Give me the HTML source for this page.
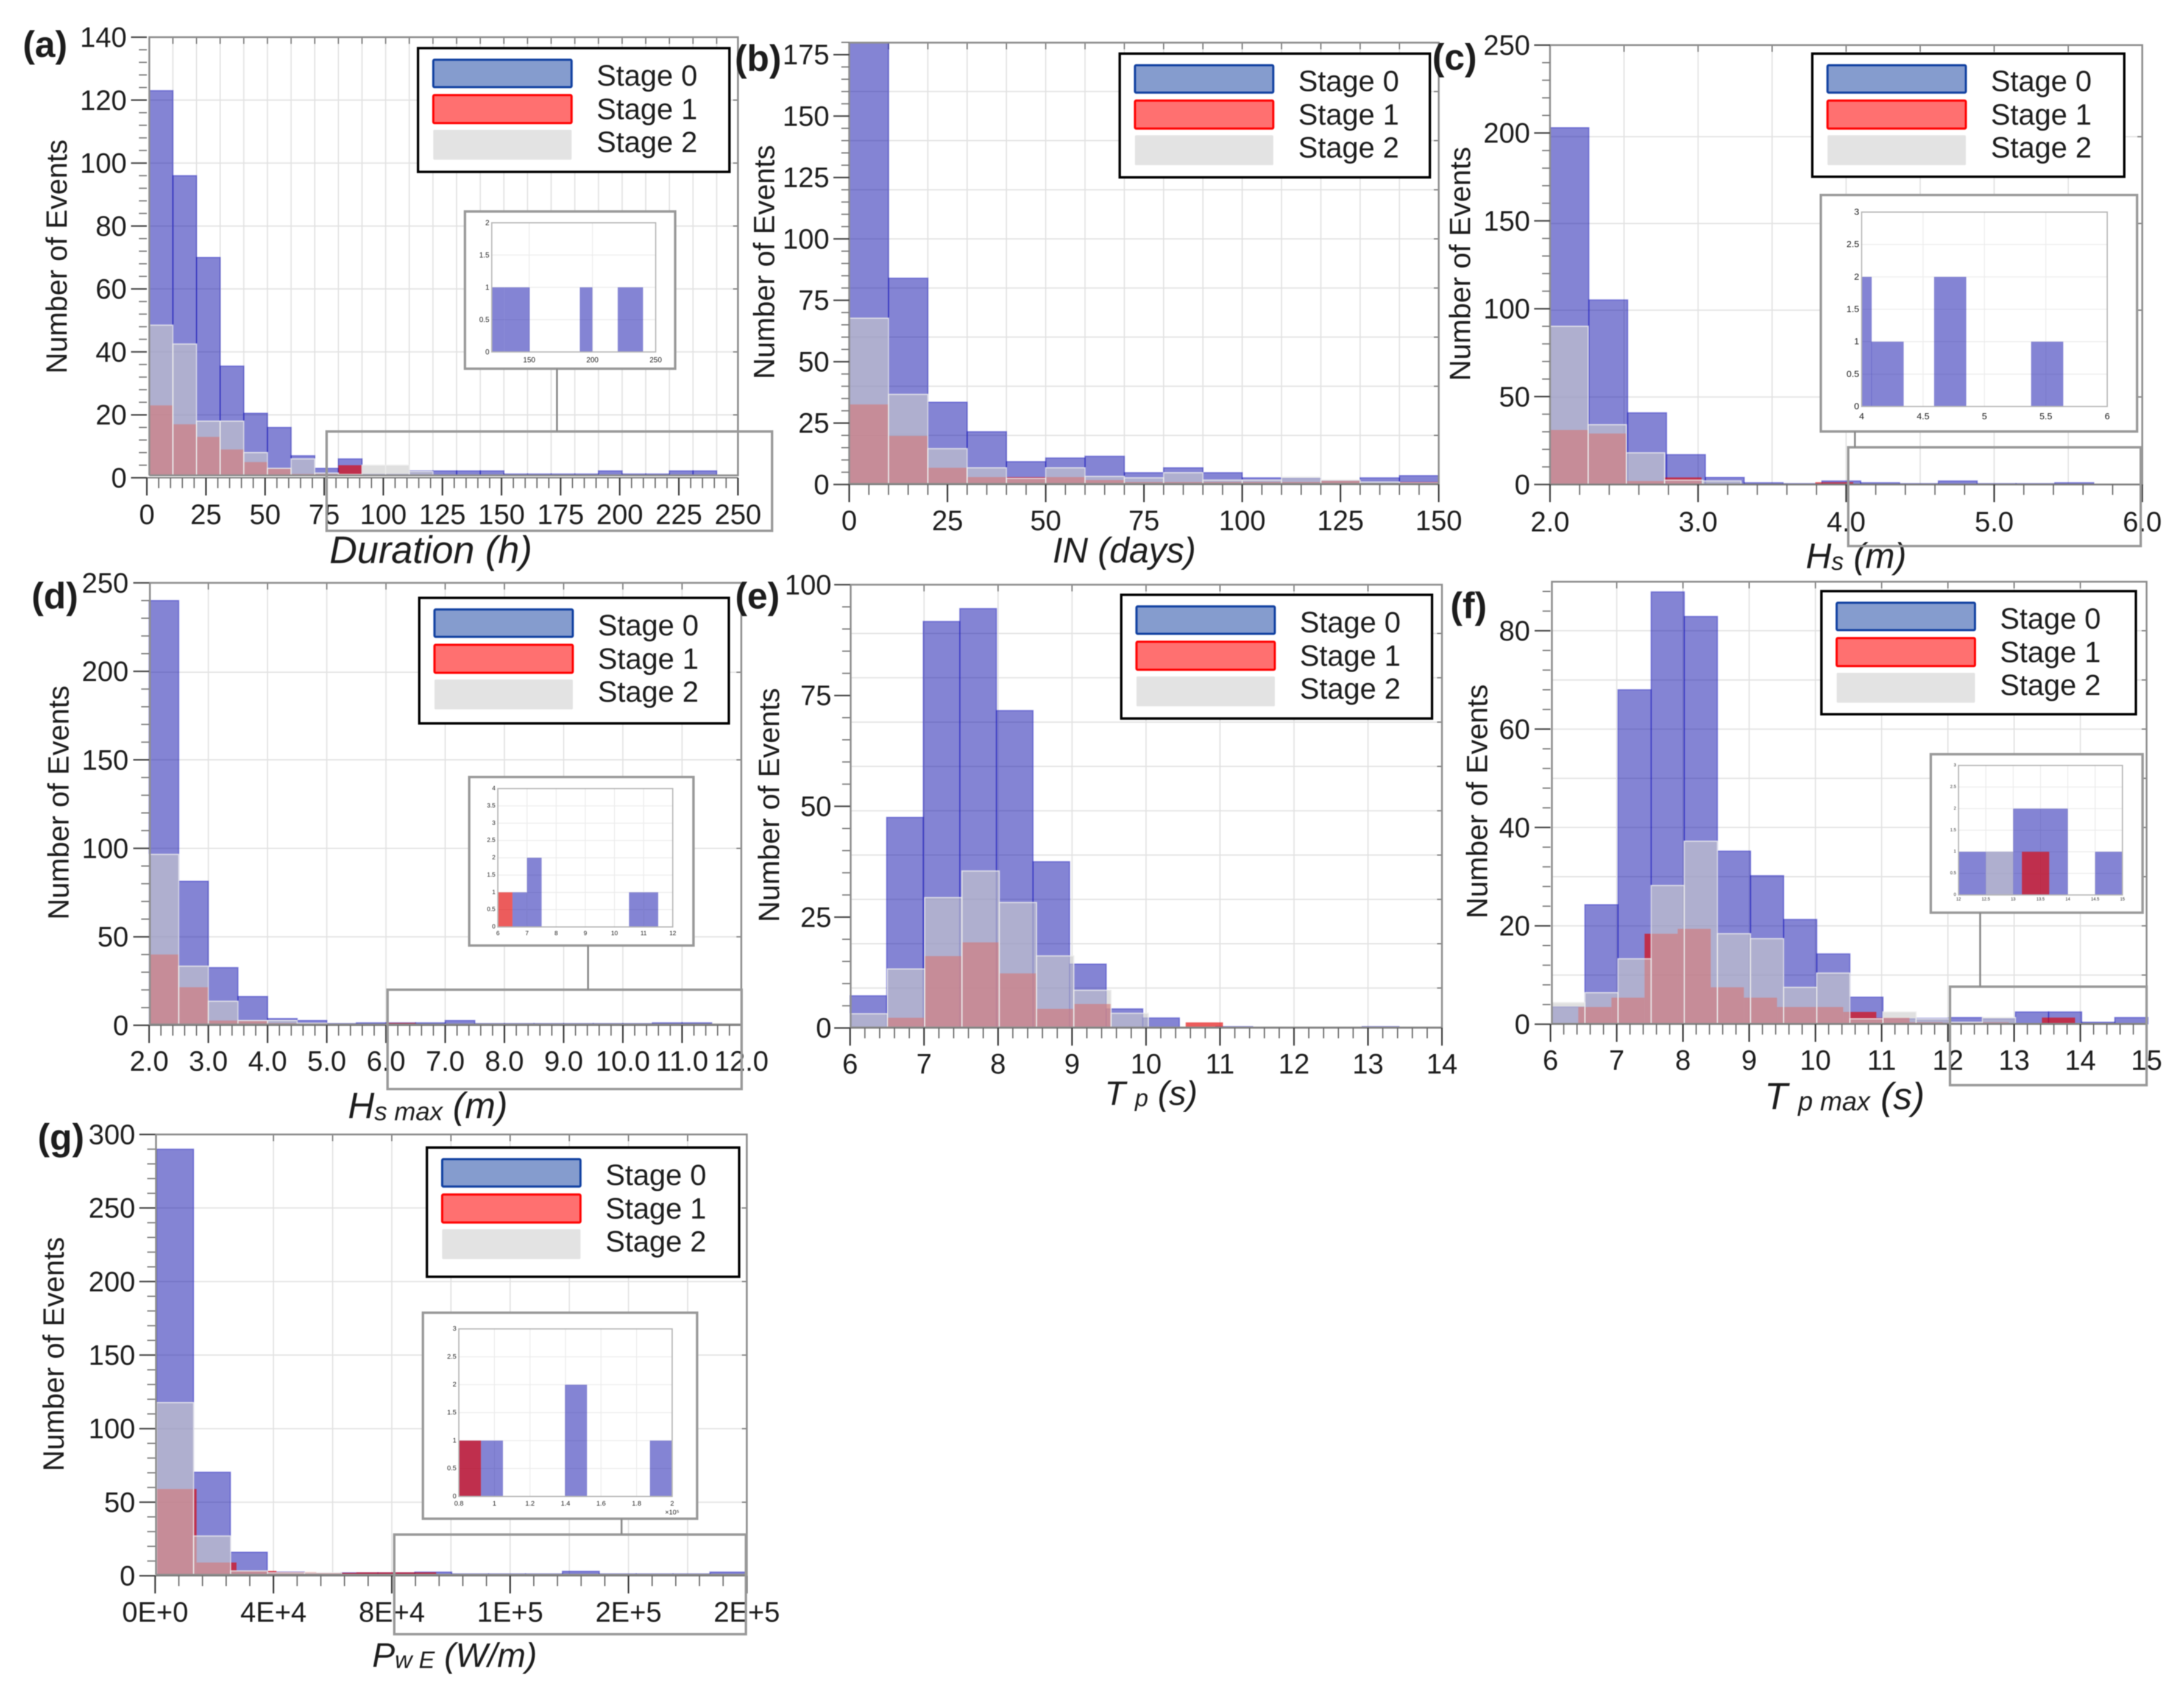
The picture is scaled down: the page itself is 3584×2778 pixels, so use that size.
<!DOCTYPE html>
<html lang="en">
<head>
<meta charset="utf-8">
<title>Histograms of storm event parameters by stage</title>
<style>
html,body{margin:0;padding:0;background:#fff;width:3584px;height:2778px;overflow:hidden}
svg{display:block;filter:blur(0.9px)}
text{font-family:"Liberation Sans",sans-serif;fill:#1c1c1c}
</style>
</head>
<body>
<svg id="figure" xmlns="http://www.w3.org/2000/svg" width="3584" height="2778" viewBox="0 0 3584 2778"></svg>
<script>
// ---------- Panel (a) Duration ----------
const aXTicks = [0,25,50,75,100,125,150,175,200,225,250];
const aXTickLabels = ['0','25','50','75','100','125','150','175','200','225','250'];
const aYTicks = [0,20,40,60,80,100,120,140];
const aXGrid = [11,21,31,41,51,61,71,81,91,101,111,121,131,141,151,161,171,181,191,201,211,221,231,241];
const aYGrid = [20,40,60,80,100,120];
const aStage0 = [123,96,70,35.5,20.5,16,7,3,6,1,1,2.2,2.2,2.2,2.2,1.2,1.2,1.2,1.2,2.2,1.2,1.2,2.2,2.2];
const aStage1 = [23,17,13,9,5,3,1.2,1.2,4];
const aStage2 = [48.5,42.5,18,18,8,3,6,1.5,1,4,4,2];
const aInsetXTicks = [150,200,250];
const aInsetXTickLabels = ['150','200','250'];
const aInsetYTicks = [0,0.5,1,1.5,2];
const aInsetYTickLabels = ['0','0.5','1','1.5','2'];
const aInsetStage0Starts = [120.4,130.4,140.4,190,220,230];
const aInsetStage0Values = [1,1,1,1,1,1];

// ---------- Panel (b) IN ----------
const bXTicks = [0,25,50,75,100,125,150];
const bXTickLabels = ['0','25','50','75','100','125','150'];
const bYTicks = [0,25,50,75,100,125,150,175];
const bXGrid = [10,20,30,40,50,60,70,80,90,100,110,120,130,140];
const bYGrid = [20,40,60,80,100,120,140,160];
const bStage0 = [180,84,33.5,21.5,9.3,10.8,11.5,4.8,6.8,4.8,2.7,2.5,1.5,2.7,3.6];
const bStage1 = [32.6,19.8,6.8,3,3,3,1.8,1,1,1,1,1,1.5,0,1];
const bStage2 = [67.7,36.7,14.6,6.8,2.5,6.8,3.3,2.7,4.8,1.8,1.8,3,1.8,1,0.5];

// ---------- Panel (c) Hs ----------
const cXTicks = [2,3,4,5,6];
const cXTickLabels = ['2.0','3.0','4.0','5.0','6.0'];
const cYTicks = [0,50,100,150,200,250];
const cXGrid = [2.5,3,3.5,4,4.5,5,5.5];
const cYGrid = [49.8,99.2,148.5,197.9];
const cStage0 = [203,105,40.8,17,4,1,0.3,2,1,0.3,2,0.3,0.3,1];
const cStage1 = [31,29,2,4,0.5,0.5,0.5,1.3];
const cStage2 = [90,34,18,2.5,2];
const cInsetXTicks = [4,4.5,5,5.5,6];
const cInsetXTickLabels = ['4','4.5','5','5.5','6'];
const cInsetYTicks = [0,0.5,1,1.5,2,2.5,3];
const cInsetYTickLabels = ['0','0.5','1','1.5','2','2.5','3'];
const cInsetStage0Starts = [3.82,4.08,4.59,5.38];
const cInsetStage0Values = [2,1,2,1];

// ---------- Panel (d) Hs max ----------
const dXTicks = [2,3,4,5,6,7,8,9,10,11,12];
const dXTickLabels = ['2.0','3.0','4.0','5.0','6.0','7.0','8.0','9.0','10.0','11.0','12.0'];
const dYTicks = [0,50,100,150,200,250];
const dXGrid = [3,4,5,6,7,8,9,10,11];
const dYGrid = [50,100,150,199.5];
const dStage0 = [240,81.4,32.6,16.3,3.8,2.7,0.4,1.4,1.4,1.4,2.7,0.4,0.4,0.4,0.4,0.4,0.4,1.4,1.4];
const dStage1 = [40,21.5,2.7,2.7,1.2,1.2,0.8,0,1.4];
const dStage2 = [96.6,33.4,13.6,2.7,2.7,1.2];
const dInsetXTicks = [6,7,8,9,10,11,12];
const dInsetXTickLabels = ['6','7','8','9','10','11','12'];
const dInsetYTicks = [0,0.5,1,1.5,2,2.5,3,3.5,4];
const dInsetYTickLabels = ['0','0.5','1','1.5','2','2.5','3','3.5','4'];
const dInsetStage0Starts = [6.5,7,10.5,11];
const dInsetStage0Values = [1,2,1,1];
const dInsetStage1Starts = [6];
const dInsetStage1Values = [1];

// ---------- Panel (e) Tp ----------
const eXTicks = [6,7,8,9,10,11,12,13,14];
const eXTickLabels = ['6','7','8','9','10','11','12','13','14'];
const eYTicks = [0,25,50,75,100];
const eXGrid = [7,8,9,10,11,12,13];
const eYGrid = [9,19,29,39,49,59,69,79,89];
const eStage0 = [7.25,47.5,91.7,94.6,71.6,37.5,14.4,4.3,2.25,0,0.2,0,0,0,0.2];
const eStage1 = [0.1,2.3,16.2,19.3,12.3,4.3,5.4,0,0,1.25];
const eStage2 = [3.2,13.3,29.4,35.4,28.3,16.25,8.5,3.3];

// ---------- Panel (f) Tp max ----------
const fXTicks = [6,7,8,9,10,11,12,13,14,15];
const fXTickLabels = ['6','7','8','9','10','11','12','13','14','15'];
const fYTicks = [0,20,40,60,80];
const fXGrid = [7,8,9,10,11,12,13,14];
const fYGrid = [10,20,30,40,50,60,70,80];
const fStage0 = [3.5,24.3,68,87.9,82.9,35.2,30.2,21.3,14.3,5.5,1.1,1.2,1.35,1.1,2.5,2.5,0.4,1.35];
const fStage1 = [3.5,5.4,18.4,19.4,7.5,5.4,3.5,3.5,2.5,1.3,0.4,0.3,0.4,0,1.35];
const fStage2 = [4.4,6.4,13.3,28.2,37.2,18.4,17.4,7.5,10.4,1.1,2.5,1.1,0.4,1.35];
const fInsetXTicks = [12,12.5,13,13.5,14,14.5,15];
const fInsetXTickLabels = ['12','12.5','13','13.5','14','14.5','15'];
const fInsetYTicks = [0,0.5,1,1.5,2,2.5,3];
const fInsetYTickLabels = ['0','0.5','1','1.5','2','2.5','3'];
const fInsetStage0Starts = [12,12.5,13,13.5,14.5];
const fInsetStage0Values = [1,1,2,2,1];
const fInsetStage1Starts = [13.16];
const fInsetStage1Values = [1];
const fInsetStage2Starts = [12.5];
const fInsetStage2Values = [1];

// ---------- Panel (g) PwE ----------
const gXTicks = [0,40000,80000,120000,160000,200000];
const gXTickLabels = ['0E+0','4E+4','8E+4','1E+5','2E+5','2E+5'];
const gYTicks = [0,50,100,150,200,250,300];
const gXGrid = [40000,60000,80000,100000,120000,140000,160000,180000];
const gYGrid = [50,100,150,200,250];
const gStage0 = [290,70.4,16,2.5,0.5,2,2,2.5,0.5,0.5,0.5,3,0.5,0.5,0.5,2.5];
const gStage1 = [59,9,3.3,2.5,2,2.3,2.3];
const gStage2 = [117.7,27,3.3,2,2];
const gInsetXTicks = [0.8,1,1.2,1.4,1.6,1.8,2];
const gInsetXTickLabels = ['0.8','1','1.2','1.4','1.6','1.8','2'];
const gInsetYTicks = [0,0.5,1,1.5,2,2.5,3];
const gInsetYTickLabels = ['0','0.5','1','1.5','2','2.5','3'];
const gInsetStage0Starts = [0.8,0.924,1.397,1.875];
const gInsetStage0Values = [1,1,2,1];
const gInsetStage1Starts = [0.8];
const gInsetStage1Values = [1];

const stageLabels = ['Stage 0','Stage 1','Stage 2'];

// ---------- Layout (pixels and styling only) ----------
const panels = [
 {id:'a',letter:'(a)',lx:74,ly:73,
  xL:241,xR:1211,xMin:0,xMax:250,y0:784,yRefPx:61,yRefVal:140,fL:245,fT:61,fR:1211,base:780,
  xTicks:aXTicks,xTickLabels:aXTickLabels,yTicks:aYTicks,xGrid:aXGrid,yGrid:aYGrid,xMinor:5,yMinor:4,
  s:[aStage0,aStage1,aStage2],start:[1,1,1],w:[10,10,10],
  yLab:208,xLabY:844,title:[['Duration (h)',0]],tx:707,ty:903,tsize:63,yt:[94,421],leg:[686,79,511,203],
  zoom:[536,708,731,163],conn:[914,605,708],
  inset:{f:[763,347,345,258],p:[807,365.5,269,212],xMin:120.4,xMax:250,yMax:2,xTicks:aInsetXTicks,xLabels:aInsetXTickLabels,yTicks:aInsetYTicks,yLabels:aInsetYTickLabels,font:12,
   bw:10,s0:[aInsetStage0Starts,aInsetStage0Values]}},
 {id:'b',letter:'(b)',lx:1244,ly:96,
  xL:1393.6,xR:2361,xMin:0,xMax:150,y0:795,yRefPx:89.7,yRefVal:175,fL:1393.6,fT:70,fR:2361,base:794,
  xTicks:bXTicks,xTickLabels:bXTickLabels,yTicks:bYTicks,xGrid:bXGrid,yGrid:bYGrid,xMinor:5,yMinor:5,
  s:[bStage0,bStage1,bStage2],start:[0,0,0],w:[10,10,10],
  yLab:1361,xLabY:854,title:[['IN (days)',0]],tx:1845,ty:903,tsize:58,yt:[1255,430],leg:[1837.5,88,509,203]},
 {id:'c',letter:'(c)',lx:2387,ly:94,
  xL:2543.6,xR:3515.5,xMin:2,xMax:6,y0:795,yRefPx:74,yRefVal:250,fL:2543.6,fT:74,fR:3515.5,base:795,
  xTicks:cXTicks,xTickLabels:cXTickLabels,yTicks:cYTicks,xGrid:cXGrid,yGrid:cYGrid,xMinor:0.2,yMinor:10,
  s:[cStage0,cStage1,cStage2],start:[2,2,2],w:[0.2623,0.256,0.258],
  yLab:2511,xLabY:856,title:[['H',0],['s',1],[' (m)',0]],tx:3046,ty:912,tsize:58,yt:[2397,433],leg:[2974,88,512,202],
  zoom:[3033,734,480,162],conn:[3044,708,734],
  inset:{f:[2988,320,519,388],p:[3055,348,403,319],xMin:4,xMax:6,yMax:3,xTicks:cInsetXTicks,xLabels:cInsetXTickLabels,yTicks:cInsetYTicks,yLabels:cInsetYTickLabels,font:15,
   bw:0.262,s0:[cInsetStage0Starts,cInsetStage0Values]}},
 {id:'d',letter:'(d)',lx:90,ly:978,
  xL:244.7,xR:1216.5,xMin:2,xMax:12,y0:1682.4,yRefPx:956.4,yRefVal:250,fL:246,fT:956.4,fR:1216.5,base:1681,
  xTicks:dXTicks,xTickLabels:dXTickLabels,yTicks:dYTicks,xGrid:dXGrid,yGrid:dYGrid,xMinor:0.2,yMinor:10,
  s:[dStage0,dStage1,dStage2],start:[2,2,2],w:[0.5,0.5,0.5],
  yLab:211,xLabY:1741,title:[['H',0],['s max',1],[' (m)',0]],tx:702,ty:1814,tsize:60,yt:[97,1317],leg:[688,981,508,206],
  zoom:[636,1624,581,163],conn:[965,1551,1624],
  inset:{f:[770,1275,368,276.5],p:[817,1294,287,227],xMin:6,xMax:12,yMax:4,xTicks:dInsetXTicks,xLabels:dInsetXTickLabels,yTicks:dInsetYTicks,yLabels:dInsetYTickLabels,font:10,
   bw:0.5,s0:[dInsetStage0Starts,dInsetStage0Values],s1:[dInsetStage1Starts,dInsetStage1Values]}},
 {id:'e',letter:'(e)',lx:1243,ly:978,
  xL:1395,xR:2366.3,xMin:6,xMax:14,y0:1686.7,yRefPx:959.4,yRefVal:100,fL:1396,fT:959.4,fR:2366.3,base:1686,
  xTicks:eXTicks,xTickLabels:eXTickLabels,yTicks:eYTicks,xGrid:eXGrid,yGrid:eYGrid,xMinor:0.2,yMinor:5,
  s:[eStage0,eStage1,eStage2],start:[6,6,6],w:[0.4945,0.504,0.504],
  yLab:1364.5,xLabY:1745.5,title:[['T ',0],['p',1],[' (s)',0]],tx:1889,ty:1793,tsize:56,yt:[1263,1321],leg:[1840,976,510,203]},
 {id:'f',letter:'(f)',lx:2410,ly:994,
  xL:2544.4,xR:3522.6,xMin:6,xMax:15,y0:1680.6,yRefPx:1035,yRefVal:80,fL:2546.7,fT:954.5,fR:3522.6,base:1680,
  xTicks:fXTicks,xTickLabels:fXTickLabels,yTicks:fYTicks,xGrid:fXGrid,yGrid:fYGrid,xMinor:0.2,yMinor:4,
  s:[fStage0,fStage1,fStage2],start:[6.02,6.42,6.02],w:[0.5,0.5,0.5],
  yLab:2511,xLabY:1739.4,title:[['T ',0],['p max',1],[' (s)',0]],tx:3027,ty:1799,tsize:62,yt:[2425,1315],leg:[2989,970,516,202],
  zoom:[3200,1619,322.6,161.6],conn:[3249.5,1497.6,1619],
  inset:{f:[3168.5,1237.6,347.5,260],p:[3214,1256,269,212.5],xMin:12,xMax:15,yMax:3,xTicks:fInsetXTicks,xLabels:fInsetXTickLabels,yTicks:fInsetYTicks,yLabels:fInsetYTickLabels,font:7,
   bw:0.5,s0:[fInsetStage0Starts,fInsetStage0Values],s1:[fInsetStage1Starts,fInsetStage1Values],s2:[fInsetStage2Starts,fInsetStage2Values]}},
 {id:'g',letter:'(g)',lx:100,ly:1866,
  xL:254.6,xR:1225.5,xMin:0,xMax:200000,y0:2585.6,yRefPx:1861.5,yRefVal:300,fL:256,fT:1861.5,fR:1225.5,base:2584,
  xTicks:gXTicks,xTickLabels:gXTickLabels,yTicks:gYTicks,xGrid:gXGrid,yGrid:gYGrid,xMinor:8000,yMinor:10,
  s:[gStage0,gStage1,gStage2],start:[500,500,500],w:[12470,13500,12500],
  yLab:222,xLabY:2645,title:[['P',0],['w E',1],[' (W/m)',0]],tx:746,ty:2715,tsize:56,yt:[89,2222],leg:[700.6,1883,512.4,212],
  zoom:[647,2518,577,163.5],conn:[1020,2492,2518],
  inset:{f:[694,2154,450,338],p:[753,2180.5,350,275],xMin:0.8,xMax:2,yMax:3,xTicks:gInsetXTicks,xLabels:gInsetXTickLabels,yTicks:gInsetYTicks,yLabels:gInsetYTickLabels,font:11,
   bw:0.124,s0:[gInsetStage0Starts,gInsetStage0Values],s1:[gInsetStage1Starts,gInsetStage1Values],note:'×10⁵'}}
];

const NS = 'http://www.w3.org/2000/svg';
const root = document.getElementById('figure');
const BLUE = 'rgba(10,10,170,0.5)';
const RED = 'rgba(225,0,0,0.64)';
const GREY = 'rgba(204,204,204,0.6)';

function mk(tag, attrs, parent){
  const el = document.createElementNS(NS, tag);
  for (const k in attrs) el.setAttribute(k, attrs[k]);
  parent.appendChild(el);
  return el;
}

function drawPanel(p){
  const g = mk('g', {}, root);
  
  

  const x = v => p.xL + (v - p.xMin) * (p.xR - p.xL) / (p.xMax - p.xMin);
  const y = v => p.y0 - v * (p.y0 - p.yRefPx) / p.yRefVal;

  // gridlines
  p.xGrid.forEach(v => {
    const l = mk('line', {x1:x(v), x2:x(v), y1:p.fT, y2:p.base, stroke:'#e2e2e2', 'stroke-width':2}, g);
    
    
    const t = mk('line', {x1:x(v), x2:x(v), y1:p.fT, y2:p.fT + 11, stroke:'#777', 'stroke-width':2}, g);
    
    
  });
  p.yGrid.forEach(v => {
    const l = mk('line', {x1:p.fL, x2:p.fR, y1:y(v), y2:y(v), stroke:'#e2e2e2', 'stroke-width':2}, g);
    
    
    const t = mk('line', {x1:p.fR - 8, x2:p.fR, y1:y(v), y2:y(v), stroke:'#777', 'stroke-width':2}, g);
    
    
  });

  // bars: stage 0, stage 1, stage 2 stacking order (stage 2 translucent on top)
  const fills = [BLUE, RED, GREY];
  const strokes = ['rgba(30,30,190,0.45)', 'none', 'rgba(238,238,238,0.8)'];
  [0,1,2].forEach(s => {
    const sg = mk('g', {}, g);
    
    
    p.s[s].forEach((v, i) => {
      if (v <= 0) return;
      const left = x(p.start[s] + i * p.w[s]);
      const right = x(p.start[s] + (i + 1) * p.w[s]);
      const top = Math.max(y(v), p.fT);
      const h = Math.max(p.base - top, 1.5);
      const r = mk('rect', {x:left, y:Math.min(top, p.base - 1.5), width:right - left, height:h, fill:fills[s], stroke:strokes[s], 'stroke-width':2}, sg);
      
      
    });
  });

  // plot frame
  const frame = mk('path', {d:`M${p.fL} ${p.base}V${p.fT}H${p.fR}V${p.base}H${p.fL}`, fill:'none', stroke:'#8e8e8e', 'stroke-width':3}, g);
  
  
  const bottomAxis = mk('line', {x1:p.xL, x2:p.xR, y1:p.y0, y2:p.y0, stroke:'#777', 'stroke-width':2}, g);
  
  

  // minor ticks
  for (let k = 0, v = p.xMin; v <= p.xMax + 1e-6; k++, v = p.xMin + k * p.xMinor){
    const t = mk('line', {x1:x(v), x2:x(v), y1:p.y0, y2:p.y0 + 17, stroke:'#666', 'stroke-width':2}, g);
    
    
  }
  for (let k = 0, v = 0; y(v) >= p.fT - 1; k++, v = k * p.yMinor){
    const t = mk('line', {x1:p.xL - 13, x2:p.xL, y1:y(v), y2:y(v), stroke:'#777', 'stroke-width':2}, g);
    
    
  }

  // major ticks and labels
  p.xTicks.forEach((v, i) => {
    const t = mk('line', {x1:x(v), x2:x(v), y1:p.y0, y2:p.y0 + 29, stroke:'#333', 'stroke-width':2.5}, g);
    
    
    const l = mk('text', {x:x(v), y:p.xLabY, 'text-anchor':'middle', 'dominant-baseline':'central', 'font-size':46}, g);
    l.textContent = p.xTickLabels[i];
    
    
  });
  p.yTicks.forEach(v => {
    const t = mk('line', {x1:p.xL - 26, x2:p.xL, y1:y(v), y2:y(v), stroke:'#444', 'stroke-width':2.5}, g);
    
    
    const l = mk('text', {x:p.yLab, y:y(v), 'text-anchor':'end', 'dominant-baseline':'central', 'font-size':46}, g);
    l.textContent = String(v);
    
    
  });

  // axis titles
  const yTitle = mk('text', {x:p.yt[0], y:p.yt[1], 'text-anchor':'middle', 'dominant-baseline':'central', 'font-size':48, transform:`rotate(-90 ${p.yt[0]} ${p.yt[1]})`}, g);
  yTitle.textContent = 'Number of Events';
  
  

  const xTitle = mk('text', {x:p.tx, y:p.ty, 'text-anchor':'middle', 'dominant-baseline':'central', 'font-size':p.tsize, 'font-style':'italic'}, g);
  
  
  let subShift = 0;
  p.title.forEach(part => {
    const ts = mk('tspan', {}, xTitle);
    ts.textContent = part[0];
    const dy = part[1] ? 9 : -subShift;
    if (dy) ts.setAttribute('dy', dy);
    subShift = part[1] ? 9 : 0;
    if (part[1]) ts.setAttribute('font-size', p.tsize * 0.7);
  });

  // panel letter
  const letter = mk('text', {x:p.lx, y:p.ly, 'text-anchor':'middle', 'dominant-baseline':'central', 'font-size':60, 'font-weight':'bold', fill:'#000'}, g);
  letter.textContent = p.letter;
  
  

  if (p.inset) drawInset(p, g);
  drawLegend(p, g);

  if (p.zoom){
    const z = mk('rect', {x:p.zoom[0], y:p.zoom[1], width:p.zoom[2], height:p.zoom[3], fill:'none', stroke:'#999', 'stroke-width':4}, g);
    
    
    const c = mk('line', {x1:p.conn[0], x2:p.conn[0], y1:p.conn[1], y2:p.conn[2], stroke:'#888', 'stroke-width':3}, g);
    
    
  }
}

function drawLegend(p, g){
  const L = p.leg;
  const lg = mk('g', {}, g);
  
  
  const box = mk('rect', {x:L[0], y:L[1], width:L[2], height:L[3], fill:'#fff', stroke:'#000', 'stroke-width':4}, lg);
  
  
  const swFill = ['#859cce', '#ff7070', '#e3e3e3'];
  const swStroke = ['#0f3fa0', '#ff0000', 'none'];
  const swY = [19, 77, 134];
  const swH = [45, 46, 49];
  const txtY = [46, 101, 155];
  stageLabels.forEach((label, i) => {
    const sw = mk('rect', {x:L[0] + 25, y:L[1] + swY[i], width:227, height:swH[i], fill:swFill[i], stroke:swStroke[i], 'stroke-width':3.5, rx:2}, lg);
    
    
    const t = mk('text', {x:L[0] + 293, y:L[1] + txtY[i], 'dominant-baseline':'central', 'font-size':48}, lg);
    t.textContent = label;
    
    
  });
}

function drawInset(p, g){
  const I = p.inset;
  const ig = mk('g', {}, g);
  
  
  const outer = mk('rect', {x:I.f[0], y:I.f[1], width:I.f[2], height:I.f[3], fill:'#fff', stroke:'#999', 'stroke-width':4}, ig);
  
  
  const px = v => I.p[0] + (v - I.xMin) * I.p[2] / (I.xMax - I.xMin);
  const py = v => I.p[1] + I.p[3] - v * I.p[3] / I.yMax;

  I.yTicks.forEach((v, i) => {
    const l = mk('line', {x1:I.p[0], x2:I.p[0] + I.p[2], y1:py(v), y2:py(v), stroke:'#ececec', 'stroke-width':1.5}, ig);
    
    
    const t = mk('text', {x:I.p[0] - 4, y:py(v), 'text-anchor':'end', 'dominant-baseline':'central', 'font-size':I.font, fill:'#555'}, ig);
    t.textContent = I.yLabels[i];
    
    
  });
  I.xTicks.forEach((v, i) => {
    const l = mk('line', {x1:px(v), x2:px(v), y1:I.p[1], y2:I.p[1] + I.p[3], stroke:'#ececec', 'stroke-width':1.5}, ig);
    
    
    const t = mk('text', {x:px(v), y:I.p[1] + I.p[3] + I.font * 1.1, 'text-anchor':'middle', 'dominant-baseline':'central', 'font-size':I.font, fill:'#555'}, ig);
    t.textContent = I.xLabels[i];
    
    
  });

  [[I.s0, BLUE, 'stage-0'], [I.s1, RED, 'stage-1'], [I.s2, GREY, 'stage-2']].forEach(entry => {
    if (!entry[0]) return;
    entry[0][0].forEach((start, i) => {
      const v = entry[0][1][i];
      // bins that begin left of the inset's x-range are cut off at its left edge
      const left = Math.max(px(start), I.p[0]);
      const right = Math.min(px(start + I.bw), I.p[0] + I.p[2]);
      const r = mk('rect', {x:left, y:py(v), width:right - left, height:py(0) - py(v), fill:entry[1]}, ig);
      
      
    });
  });

  const plot = mk('rect', {x:I.p[0], y:I.p[1], width:I.p[2], height:I.p[3], fill:'none', stroke:'#b5b5b5', 'stroke-width':2}, ig);
  
  

  if (I.note){
    const n = mk('text', {x:I.p[0] + I.p[2], y:I.p[1] + I.p[3] + I.font * 2.4, 'text-anchor':'middle', 'dominant-baseline':'central', 'font-size':I.font, fill:'#555'}, ig);
    n.textContent = I.note;
    
    
  }
}

panels.forEach(drawPanel);
</script>
</body>
</html>
